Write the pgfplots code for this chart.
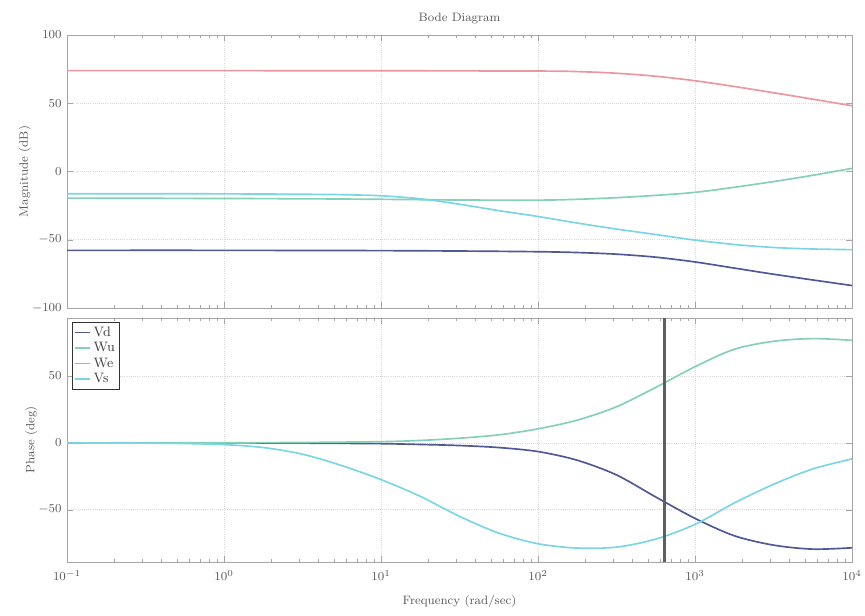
\documentclass[border=0pt]{standalone}
\usepackage{pgfplots}
\pgfplotsset{compat=1.18}

\definecolor{cVd}{RGB}{80,88,150}
\definecolor{cWu}{RGB}{132,208,184}
\definecolor{cWe}{RGB}{236,150,160}
\definecolor{cVs}{RGB}{122,214,228}
\definecolor{cLine}{RGB}{95,95,95}

\tikzset{curve/.style={line width=1.1pt, smooth}}

\begin{document}
\begin{tikzpicture}
\path[use as bounding box] (-1.55cm,-7.12cm) rectangle (18.45cm,7.12cm);

% magnitude
\begin{axis}[name=mag, at={(0,0)}, anchor=south west,
    scale only axis, width=18.15cm, height=6.31cm,
    xmode=log, xmin=0.1, xmax=10000,
    xtick={0.1,1,10,100,1000,10000},
    tick align=inside,
    major tick length=4pt, minor tick length=2pt,
    axis line style={gray!70},
    tick style={gray!70},
    xmajorgrids, ymajorgrids, major grid style={densely dotted, gray!30},
    tick label style={font=\footnotesize, text=black!65},
    label style={font=\footnotesize, text=black!65},
    ylabel shift=-6pt,
    ymin=-100, ymax=100, ytick={-100,-50,0,50,100},
    xticklabels={},
    ylabel={Magnitude (dB)},
    title={Bode Diagram},
    title style={font=\footnotesize, text=black!65, yshift=-2pt}]
\addplot[curve, cVd] coordinates {
  (0.1,-57.8) (1,-57.8) (10,-58) (31.62,-58.3) (100,-58.8) (177.8,-59.4)
  (316.2,-60.6) (562.3,-62.8) (1000,-66.3) (1778,-70.8) (3162,-75.3)
  (5623,-79.5) (10000,-83.6)};
\addplot[curve, cWu] coordinates {
  (0.1,-19.5) (1,-19.8) (3.162,-20) (10,-20.4) (31.62,-20.9) (100,-21)
  (177.8,-20.4) (316.2,-19.2) (562.3,-17.5) (1000,-15.3) (1778,-11.6)
  (3162,-7.4) (5623,-2.8) (10000,2.3)};
\addplot[curve, cWe] coordinates {
  (0.1,73.9) (1,73.9) (10,73.8) (100,73.6) (177.8,73.2) (316.2,72)
  (562.3,69.8) (1000,66.5) (1778,62.3) (3162,57.7) (5623,53) (10000,48.2)};
\addplot[curve, cVs] coordinates {
  (0.1,-16.3) (1,-16.4) (3.162,-16.7) (5.623,-17) (10,-17.8) (17.78,-20)
  (31.62,-24) (56.23,-28.7) (100,-33) (177.8,-37.8) (316.2,-42.2)
  (562.3,-46.2) (1000,-50.3) (1778,-53.5) (3162,-55.7) (5623,-56.8)
  (10000,-57.3)};
\end{axis}

% phase
\begin{axis}[at={(mag.south west)}, anchor=north west, yshift=-0.23cm,
    scale only axis, width=18.15cm, height=5.64cm,
    xmode=log, xmin=0.1, xmax=10000,
    xtick={0.1,1,10,100,1000,10000},
    tick align=inside,
    major tick length=4pt, minor tick length=2pt,
    axis line style={gray!70},
    tick style={gray!70},
    xmajorgrids, ymajorgrids, major grid style={densely dotted, gray!30},
    tick label style={font=\footnotesize, text=black!65},
    xticklabel style={yshift=-2pt},
    label style={font=\footnotesize, text=black!65},
    ylabel shift=-6pt,
    xlabel style={yshift=-3pt},
    ymin=-89, ymax=93.5, ytick={-50,0,50},
    xlabel={Frequency (rad/sec)},
    ylabel={Phase (deg)},
    legend style={at={(0.006,0.985)}, anchor=north west, draw=black!80,
      line width=0.8pt, font=\small, fill=white,
      inner sep=1pt, row sep=-1.5pt, text=black!75},
    legend cell align=left,
    legend image code/.code={\draw[#1, line width=1.1pt] (0cm,0cm) -- (0.35cm,0cm);}]
\addplot[curve, cVd] coordinates {
  (0.1,0) (1,0) (3.162,-0.2) (10,-0.6) (17.78,-1.2) (31.62,-2) (56.23,-3.5)
  (100,-6.5) (177.8,-13) (316.2,-24) (562.3,-40.5) (1000,-56.5)
  (1778,-69.5) (3162,-76.5) (5623,-79.5) (10000,-78.5)};
\addlegendentry{Vd}
\addplot[curve, cWu] coordinates {
  (0.1,0) (1,0.1) (3.162,0.3) (10,0.9) (17.78,1.8) (31.62,3.5) (56.23,6)
  (100,10.5) (177.8,17) (316.2,27) (562.3,41.5) (1000,57) (1778,70)
  (3162,76) (5623,78) (10000,76.7)};
\addlegendentry{Wu}
\addlegendimage{cWe, line width=1.1pt}
\addlegendentry{We}
\addplot[curve, cVs] coordinates {
  (0.1,0) (0.3162,-0.2) (0.5623,-0.5) (1,-1.3) (1.778,-3.5) (3.162,-8.5)
  (5.623,-17) (10,-27.5) (17.78,-40) (31.62,-55) (56.23,-67.5) (100,-75.5)
  (177.8,-78.7) (316.2,-78) (562.3,-72) (1000,-61) (1778,-45) (3162,-31)
  (5623,-19.5) (10000,-12)};
\addlegendentry{Vs}
\addplot[cLine, line width=1.5pt, forget plot] coordinates {
  (640,-89) (640,93.5)};
\end{axis}
\end{tikzpicture}
\end{document}
